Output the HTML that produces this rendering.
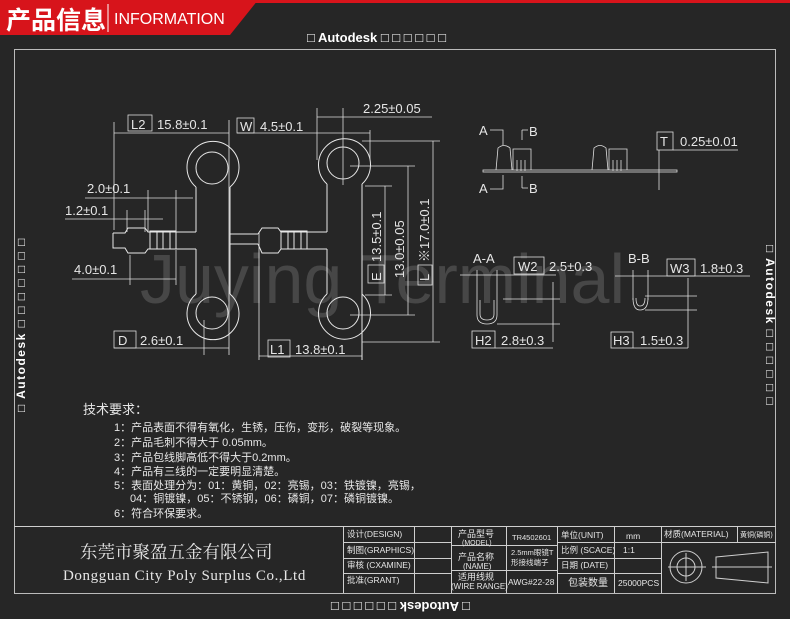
<!DOCTYPE html>
<html><head><meta charset="utf-8"><style>
html,body{margin:0;padding:0;background:#262626;}
body{width:790px;height:619px;overflow:hidden;position:relative;}
svg{position:absolute;left:0;top:0;}
text{font-family:"Liberation Sans","Noto Sans CJK SC",sans-serif;fill:#e6e6e6;}
.m{font-family:"Liberation Sans",sans-serif;font-size:13px;fill:#e0e0e0;}
.c{font-family:"Liberation Serif","Noto Serif CJK SC",serif;}
</style></head><body>
<svg width="790" height="619" viewBox="0 0 790 619" xmlns="http://www.w3.org/2000/svg">
<rect width="790" height="619" fill="#262626"/>
<!-- header -->
<rect x="0" y="0" width="790" height="3" fill="#d7141b"/>
<polygon points="0,0 258,0 230,35 0,35" fill="#d7141b"/>
<text x="6" y="29" font-size="25" font-weight="bold" style="fill:#fff">产品信息</text>
<line x1="108" y1="4" x2="108" y2="32" stroke="#fff" stroke-width="1"/>
<text x="114" y="24" font-size="16" style="fill:#fff">INFORMATION</text>
<text x="307" y="42" font-size="13" font-weight="bold" style="fill:#fff">□  Autodesk □ □ □ □ □ □</text>
<!-- border -->
<rect x="14.5" y="49.5" width="761" height="544" fill="none" stroke="#bbb" stroke-width="1"/>
<text transform="translate(766,245) rotate(90)" font-size="12" font-weight="bold" letter-spacing="1.5" style="fill:#fff">□ Autodesk □ □ □ □ □ □</text>
<text transform="translate(25,412) rotate(-90)" font-size="12" font-weight="bold" letter-spacing="1.5" style="fill:#fff">□ Autodesk □ □ □ □ □ □ □</text>
<text transform="translate(470,602) rotate(180)" font-size="13" font-weight="bold" style="fill:#fff">□ Autodesk □ □ □ □ □ □</text>
<!-- watermark -->
<text x="140" y="303" font-size="70" style="fill:#474747">Juying Terminal</text>

<g fill="none" stroke="#e8e8e8" stroke-width="1">
<!-- left part -->
<circle cx="212" cy="168" r="16"/>
<circle cx="212" cy="313" r="16"/>
<path d="M196,187 A26,26 0 1 1 230,187 M196,294 A26,26 0 1 0 230,294"/>
<line x1="196" y1="187" x2="196" y2="232"/><line x1="196" y1="249" x2="196" y2="294"/>
<line x1="230" y1="187" x2="230" y2="294"/>
<line x1="229" y1="120" x2="229" y2="355" stroke-width="0.8"/>
<path d="M113,233 L125,233 L128,228 L145,228 L148,232 L176,232 L196,232 M113,233 L113,248 L125,248 L128,253 L145,253 L148,249 L196,249"/>
<rect x="150" y="231" width="26" height="18"/>
<line x1="157" y1="232" x2="157" y2="249"/><line x1="163" y1="232" x2="163" y2="249"/><line x1="170" y1="232" x2="170" y2="249"/>
<!-- middle arm -->
<line x1="230" y1="234" x2="258" y2="234"/><line x1="230" y1="244" x2="258" y2="244"/>
<!-- right part -->
<circle cx="343" cy="163" r="16"/>
<circle cx="343" cy="313" r="16"/>
<path d="M327,184 A26,26 0 1 1 362,184 M327,294 A26,26 0 1 0 362,294"/>
<line x1="327" y1="184" x2="327" y2="232"/><line x1="327" y1="249" x2="327" y2="294"/>
<line x1="362" y1="184" x2="362" y2="360"/>
<line x1="259" y1="232" x2="259" y2="360" stroke-width="0.8"/>
<path d="M258,234 L262,228 L278,228 L281,232 L327,232 M258,244 L262,253 L278,253 L281,249 L327,249"/>
<rect x="281" y="231" width="26" height="18"/>
<line x1="288" y1="232" x2="288" y2="249"/><line x1="294" y1="232" x2="294" y2="249"/><line x1="301" y1="232" x2="301" y2="249"/>
</g>
<!-- dimensions -->
<g fill="none" stroke="#dcdcdc" stroke-width="0.8">
<line x1="114" y1="122" x2="114" y2="230"/>
<line x1="114" y1="133" x2="229" y2="133"/>
<rect x="128" y="115" width="24" height="16"/>
<rect x="237" y="118" width="17" height="15"/>
<line x1="237" y1="133" x2="370" y2="133"/>
<line x1="317" y1="108" x2="317" y2="160"/>
<line x1="370" y1="130" x2="370" y2="160"/>
<line x1="317" y1="117" x2="432" y2="117"/>
<line x1="343" y1="108" x2="343" y2="185"/>
<line x1="362" y1="141" x2="440" y2="141"/>
<line x1="362" y1="342" x2="440" y2="342"/>
<line x1="433" y1="141" x2="433" y2="342"/>
<rect x="418" y="265" width="14" height="20"/>
<line x1="350" y1="166" x2="415" y2="166"/>
<line x1="350" y1="315" x2="415" y2="315"/>
<line x1="408" y1="166" x2="408" y2="315"/>
<line x1="365" y1="186" x2="392" y2="186"/>
<line x1="365" y1="295" x2="392" y2="295"/>
<line x1="385" y1="186" x2="385" y2="295"/>
<rect x="368" y="265" width="16" height="18"/>
<rect x="114" y="331" width="22" height="17"/>
<line x1="114" y1="348" x2="229" y2="348"/>
<line x1="204" y1="320" x2="204" y2="355"/>
<rect x="268" y="340" width="22" height="17"/>
<line x1="259" y1="356" x2="362" y2="356"/>
<line x1="85" y1="198" x2="193" y2="198"/>
<line x1="148" y1="190" x2="148" y2="232"/><line x1="176" y1="190" x2="176" y2="232"/>
<line x1="65" y1="219" x2="163" y2="219"/>
<line x1="127" y1="210" x2="127" y2="232"/><line x1="145" y1="210" x2="145" y2="232"/>
<line x1="72" y1="279" x2="176" y2="279"/>
<line x1="130" y1="255" x2="130" y2="285"/><line x1="176" y1="250" x2="176" y2="285"/>
</g>
<g class="m">
<text x="131" y="129">L2</text><text x="157" y="129">15.8±0.1</text>
<text x="240" y="131">W</text><text x="260" y="131">4.5±0.1</text>
<text x="363" y="113">2.25±0.05</text>
<text x="87" y="193">2.0±0.1</text>
<text x="65" y="215">1.2±0.1</text>
<text x="74" y="274">4.0±0.1</text>
<text x="118" y="345">D</text><text x="140" y="345">2.6±0.1</text>
<text x="270" y="354">L1</text><text x="295" y="354">13.8±0.1</text>
<text transform="translate(381,262) rotate(-90)">13.5±0.1</text>
<text transform="translate(381,281) rotate(-90)">E</text>
<text transform="translate(404,278) rotate(-90)">13.0±0.05</text>
<text transform="translate(429,262) rotate(-90)">※17.0±0.1</text>
<text transform="translate(429,281) rotate(-90)">L</text>
</g>
<!-- side view -->
<g fill="none" stroke="#e0e0e0" stroke-width="0.8">
<rect x="483" y="170" width="194" height="2"/>
<path d="M496,170 L498,148 Q504,143 510,148 L512,170"/>
<path d="M513,170 L513,149 L531,149 L531,170"/>
<line x1="517" y1="160" x2="517" y2="171"/><line x1="521" y1="160" x2="521" y2="171"/><line x1="525" y1="160" x2="525" y2="171"/>
<path d="M592,170 L594,148 Q600,143 606,148 L608,170"/>
<path d="M609,170 L609,149 L627,149 L627,170"/>
<line x1="613" y1="160" x2="613" y2="171"/><line x1="617" y1="160" x2="617" y2="171"/><line x1="621" y1="160" x2="621" y2="171"/>
<path d="M490,130 L503,130 L503,145 M490,189 L503,189 L503,175 M522,130 L522,140 M522,130 L528,130 M522,188 L522,176 M522,188 L528,188"/>
<rect x="657" y="132" width="16" height="18"/>
<line x1="673" y1="150" x2="738" y2="150"/>
<line x1="659" y1="150" x2="659" y2="190"/>
<rect x="514" y="257" width="30" height="17"/>
<line x1="460" y1="275" x2="556" y2="275"/>
<line x1="477" y1="270" x2="477" y2="300"/><line x1="497" y1="270" x2="497" y2="300"/>
<path d="M477,300 L477,315 Q477,324 487,324 Q497,324 497,315 L497,300 M480,300 L480,314 Q480,320 487,320 Q494,320 494,314 L494,300"/>
<line x1="503" y1="299" x2="560" y2="299"/><line x1="497" y1="324" x2="560" y2="324"/>
<line x1="553" y1="282" x2="553" y2="342"/>
<rect x="472" y="331" width="23" height="17"/>
<line x1="495" y1="348" x2="553" y2="348"/>
<rect x="667" y="259" width="28" height="17"/>
<line x1="615" y1="276" x2="750" y2="276"/>
<line x1="633" y1="270" x2="633" y2="300"/><line x1="648" y1="270" x2="648" y2="300"/>
<path d="M633,298 Q633,310 640,310 Q648,310 648,298 M636,298 Q636,306 640,306 Q645,306 645,298"/>
<line x1="645" y1="296" x2="697" y2="296"/><line x1="645" y1="310" x2="697" y2="310"/>
<line x1="688" y1="278" x2="688" y2="348"/>
<rect x="611" y="332" width="22" height="16"/>
<line x1="633" y1="348" x2="688" y2="348"/>
</g>
<g class="m">
<text x="479" y="135">A</text><text x="529" y="136">B</text>
<text x="479" y="193">A</text><text x="529" y="193">B</text>
<text x="660" y="146">T</text><text x="680" y="146">0.25±0.01</text>
<text x="473" y="263">A-A</text>
<text x="518" y="271">W2</text><text x="549" y="271">2.5±0.3</text>
<text x="475" y="345">H2</text><text x="501" y="345">2.8±0.3</text>
<text x="628" y="263">B-B</text>
<text x="670" y="273">W3</text><text x="700" y="273">1.8±0.3</text>
<text x="613" y="345">H3</text><text x="640" y="345">1.5±0.3</text>
</g>
<!-- tech requirements -->
<g class="c" font-size="11">
<text x="83" y="414" font-size="13">技术要求：</text>
<text x="114" y="431">1：产品表面不得有氧化，生锈，压伤，变形，破裂等现象。</text>
<text x="114" y="446">2：产品毛刺不得大于 0.05mm。</text>
<text x="114" y="461">3：产品包线脚高低不得大于0.2mm。</text>
<text x="114" y="475">4：产品有三线的一定要明显清楚。</text>
<text x="114" y="489">5：表面处理分为：01：黄铜，02：亮锡，03：铁镀镍，亮锡，</text>
<text x="130" y="502">04：铜镀镍，05：不锈钢，06：磷铜，07：磷铜镀镍。</text>
<text x="114" y="517">6：符合环保要求。</text>
</g>
<!-- title block -->
<g fill="none" stroke="#cfcfcf" stroke-width="1">
<line x1="14" y1="526.5" x2="776" y2="526.5"/>
<line x1="343.5" y1="527" x2="343.5" y2="593"/>
<line x1="414.5" y1="527" x2="414.5" y2="593"/>
<line x1="451.5" y1="527" x2="451.5" y2="593"/>
<line x1="506.5" y1="527" x2="506.5" y2="593"/>
<line x1="557.5" y1="527" x2="557.5" y2="593"/>
<line x1="614.5" y1="527" x2="614.5" y2="593"/>
<line x1="661.5" y1="527" x2="661.5" y2="593"/>
<line x1="737.5" y1="527" x2="737.5" y2="542"/>
<line x1="343" y1="542.5" x2="451" y2="542.5"/>
<line x1="343" y1="558.5" x2="451" y2="558.5"/>
<line x1="343" y1="573.5" x2="451" y2="573.5"/>
<line x1="451" y1="545.5" x2="557" y2="545.5"/>
<line x1="451" y1="570.5" x2="557" y2="570.5"/>
<line x1="557" y1="542.5" x2="776" y2="542.5"/>
<line x1="557" y1="558.5" x2="661" y2="558.5"/>
<line x1="557" y1="573.5" x2="661" y2="573.5"/>
<circle cx="686" cy="567" r="16"/><circle cx="686" cy="567" r="9"/>
<line x1="668" y1="567" x2="706" y2="567"/><line x1="686" y1="553" x2="686" y2="581"/>
<polygon points="716,557 768,552 768,583 716,578"/>
<line x1="712" y1="567" x2="772" y2="567"/>
</g>
<g font-size="8.5" style="font-family:'Liberation Sans','Noto Sans CJK SC',sans-serif">
<text x="347" y="537">设计(DESIGN)</text>
<text x="347" y="553">制图(GRAPHICS)</text>
<text x="347" y="568">审核 (CXAMINE)</text>
<text x="347" y="583">批准(GRANT)</text>
<text x="458" y="537" font-size="9">产品型号</text><text x="462" y="545" font-size="7">(MODEL)</text>
<text x="458" y="560" font-size="9">产品名称</text><text x="463" y="569" font-size="8">(NAME)</text>
<text x="458" y="580" font-size="9">适用线规</text><text x="451" y="589" font-size="8">(WIRE RANGE)</text>
<text x="512" y="540" font-size="7.5">TR4502601</text>
<text x="511" y="555" font-size="7.5">2.5mm眼镜T</text><text x="511" y="565" font-size="7.5">形接线端子</text>
<text x="508" y="585" font-size="8.5">AWG#22-28</text>
<text x="561" y="538">单位(UNIT)</text><text x="626" y="539">mm</text>
<text x="561" y="553">比例 (SCACE)</text><text x="623" y="553">1:1</text>
<text x="561" y="568">日期 (DATE)</text>
<text x="568" y="586" font-size="10">包装数量</text><text x="618" y="586">25000PCS</text>
<text x="664" y="537">材质(MATERIAL)</text><text x="740" y="537" font-size="7">黄铜(磷铜)</text>
</g>
<text x="80" y="558" class="c" font-size="17.5">东莞市聚盈五金有限公司</text>
<text x="63" y="580" class="c" font-size="15" letter-spacing="0.6" style="font-family:'Liberation Serif',serif">Dongguan City Poly Surplus Co.,Ltd</text>
</svg>
</body></html>
